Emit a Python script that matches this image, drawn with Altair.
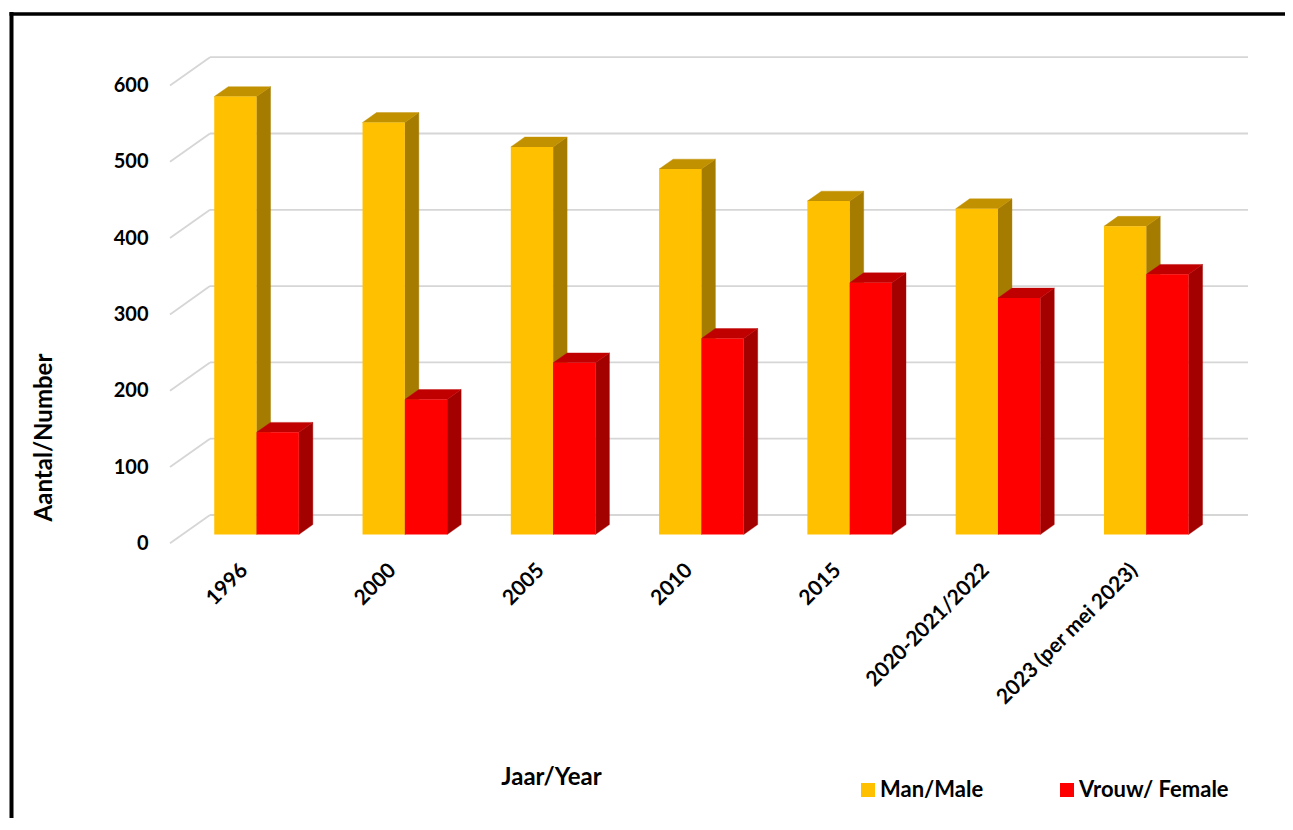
import json
import altair as alt
import pandas as pd

# ---------------- data ----------------
categories = ["1996", "2000", "2005", "2010", "2015", "2020-2021/2022", "2023 (per mei 2023)"]
male_values = [574, 540, 508, 479, 437, 427, 404]
female_values = [134, 177, 225, 257, 330, 310, 341]
series = ["Man/Male", "Vrouw/ Female"]
y_ticks = [0, 100, 200, 300, 400, 500, 600]
title_text = "Total Number of Members of the Local Council by Sex, 1996-2023"

# ---------------- style ----------------
FRONT = ["#FFC000", "#FF0000"]
TOP = ["#C29100", "#C00000"]
SIDE = ["#A67C00", "#A30000"]
GRID = "#D6D6D6"
FONT = "Lato"

SVG_W, SVG_H = 1277, 810
PAD_L = 150
PLOT_W = SVG_W - PAD_L
PLOT_H = 535
X_RANGE = [12, 1050]
Y_RANGE = [535.3, 77.5]
Y_MAX = 600
DEPTH_PX = (40.0, 28.3)
BAR_PX = 42.3
BAR_FRONT, BAR_BACK = 0.31, 0.66

n = len(categories)
px_x = (X_RANGE[1] - X_RANGE[0]) / n
px_y = (Y_RANGE[0] - Y_RANGE[1]) / Y_MAX
ddx = DEPTH_PX[0] / px_x
ddy = DEPTH_PX[1] / px_y
bw = BAR_PX / px_x
fdx, fdy = BAR_FRONT * ddx, BAR_FRONT * ddy
bdx, bdy = (BAR_BACK - BAR_FRONT) * ddx, (BAR_BACK - BAR_FRONT) * ddy

# ---------------- tables built from the arrays ----------------
rows = []
for s_idx, (name, vals) in enumerate(zip(series, [male_values, female_values])):
    for i, v in enumerate(vals):
        x0 = i + 0.5 + (s_idx - 1) * bw + fdx
        rows.append(dict(bar=f"{s_idx}-{i}", sex=name, s=s_idx, value=v,
                         x0=x0, x1=x0 + bw, top=v + fdy, base=fdy))
bars = pd.DataFrame(rows)

faces = bars.merge(pd.DataFrame({"pt": [0, 1]}), how="cross")
faces["sx"] = faces.x1 + faces.pt * bdx
faces["sy"] = faces.top + faces.pt * bdy
faces["sy2"] = faces.base + faces.pt * bdy
faces["tx"] = faces.x0 + faces.pt * bdx
faces["tx2"] = faces.x1 + faces.pt * bdx
faces["ty"] = faces.top + faces.pt * bdy

grid = pd.DataFrame({"v": y_ticks})
grid["bx0"] = ddx
grid["bx1"] = n + ddx
grid["by"] = grid.v + ddy
grid["dx0"] = 0.0

# ---------------- scales / axes ----------------
xs = alt.Scale(domain=[0, n], range=X_RANGE, nice=False, zero=False)
ys = alt.Scale(domain=[0, Y_MAX], range=Y_RANGE, nice=False, zero=False)

label_expr = json.dumps(categories) + "[floor(datum.value)]"
x_axis = alt.Axis(values=[i + 0.5 for i in range(n)], labelExpr=label_expr,
                  labelAngle=-45, labelAlign="right", labelBaseline="middle",
                  labelPadding=24, tickSize=0, domain=False, grid=False,
                  labelFont=FONT, labelFontSize=21, labelFontWeight="bold",
                  labelColor="black", labelOverlap=False, labelLimit=400,
                  labelBound=False, labelFlush=False,
                  title="Jaar/Year", titleX=393, titleY=234, titleAlign="center",
                  titleBaseline="middle", titleFont=FONT, titleFontSize=24,
                  titleFontWeight="bold", titleColor="black")
y_axis = alt.Axis(values=y_ticks, tickSize=0, domain=False, grid=False,
                  labelPadding=10, labelFont=FONT, labelFontSize=20,
                  labelFontWeight="bold", labelColor="black", labelOverlap=False,
                  title="Aantal/Number", titleX=-114, titleY=429, titleAngle=270,
                  titleAlign="center", titleBaseline="middle", titleFont=FONT,
                  titleFontSize=24, titleFontWeight="bold", titleColor="black")


def X(f):
    return alt.X(f"{f}:Q", scale=xs, axis=x_axis)


def Y(f):
    return alt.Y(f"{f}:Q", scale=ys, axis=y_axis, stack=False)


# ---------------- layers ----------------
back_grid = alt.Chart(grid).mark_rule(color=GRID, strokeWidth=1.8).encode(
    x=X("bx0"), x2="bx1", y=Y("by"))
side_grid = alt.Chart(grid).mark_rule(color=GRID, strokeWidth=1.8).encode(
    x=X("dx0"), x2="bx0", y=Y("v"), y2="by")

layers = [back_grid, side_grid]
for s_idx in range(len(series)):
    d = faces[faces.s == s_idx]
    layers.append(alt.Chart(d).mark_area(orient="vertical", color=SIDE[s_idx],
                                         stroke=SIDE[s_idx], strokeWidth=0.4).encode(
        x=X("sx"), y=Y("sy"), y2="sy2", detail="bar:N"))
for s_idx in range(len(series)):
    d = faces[faces.s == s_idx]
    layers.append(alt.Chart(d).mark_area(orient="horizontal", color=TOP[s_idx],
                                         stroke=TOP[s_idx], strokeWidth=0.4).encode(
        y=Y("ty"), x=X("tx"), x2="tx2", detail="bar:N"))

fronts = alt.Chart(bars).mark_rect(strokeWidth=0).encode(
    x=X("x0"), x2="x1", y=Y("top"), y2="base",
    color=alt.Color("sex:N", scale=alt.Scale(domain=series, range=FRONT),
                    legend=alt.Legend(title=None, orient="none", legendX=699, legendY=771,
                                      direction="horizontal", symbolType="square",
                                      symbolSize=196, symbolStrokeWidth=0,
                                      labelFont=FONT, labelFontSize=22,
                                      labelFontWeight="bold", labelColor="black",
                                      columnPadding=72, labelOffset=1, padding=0,
                                      labelLimit=300)))
layers.append(fronts)

frame_df = pd.DataFrame({"k": [0]})
frame_left = alt.Chart(frame_df).mark_rule(color="black", strokeWidth=4).encode(
    x=alt.value(-PAD_L + 3.5), y=alt.value(4), y2=alt.value(SVG_H))
frame_top = alt.Chart(frame_df).mark_rule(color="black", strokeWidth=3.5).encode(
    x=alt.value(-PAD_L + 1.5), x2=alt.value(PLOT_W), y=alt.value(6))
layers += [frame_left, frame_top]

chart = alt.layer(*layers).properties(
    width=PLOT_W, height=PLOT_H, autosize="none",
    padding={"left": PAD_L, "top": 0, "right": 0, "bottom": SVG_H - PLOT_H},
    title=alt.TitleParams(title_text, anchor="middle", frame="group", offset=0,
                          baseline="alphabetic", dy=8, dx=-63,
                          font="Liberation Sans", fontSize=18, fontWeight="bold",
                          color="black"),
).configure(background="white", view=alt.ViewConfig(strokeWidth=0))

chart.save("out.html", embed_options={"renderer": "svg", "actions": False})
